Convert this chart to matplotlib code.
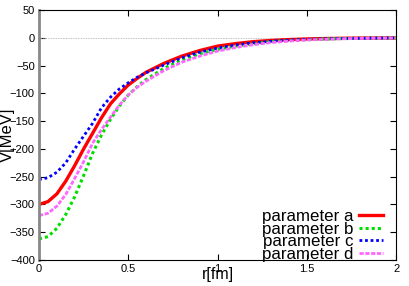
import matplotlib
matplotlib.use('Agg')
import matplotlib.pyplot as plt

plt.rcParams['font.family'] = ['Liberation Sans', 'DejaVu Sans']

# r [fm] and potentials V [MeV]
r = [0, 0.05, 0.1, 0.15, 0.2, 0.25, 0.3, 0.35, 0.4, 0.45, 0.5, 0.55, 0.6,
     0.7, 0.8, 0.9, 1.0, 1.1, 1.2, 1.3, 1.4, 1.5, 1.6, 1.7, 1.8, 1.9, 2.0]
v_a = [-300, -295, -281, -258, -230, -200, -172, -144, -119, -101, -85, -73, -62,
       -46, -33, -23, -15, -10.5, -7, -4.8, -3.2, -2.1, -1.4, -0.9, -0.6, -0.4, -0.25]
v_b = [-362, -358, -343, -318, -286, -248, -208, -175, -147, -123, -103, -88, -75,
       -55, -40, -29, -21, -15, -10.5, -7.2, -5, -3.4, -2.3, -1.5, -1, -0.6, -0.35]
v_c = [-255, -252, -242, -225, -200, -177, -154, -126, -107, -92, -81, -71, -63,
       -49, -36, -26, -18.5, -13, -9, -6.2, -4.2, -2.8, -1.9, -1.2, -0.8, -0.5, -0.3]
v_d = [-320, -316, -303, -282, -253, -223, -190, -165, -143, -121, -103, -89, -78,
       -59, -44, -33, -24, -17.5, -12.5, -8.6, -5.9, -4, -2.7, -1.8, -1.1, -0.7, -0.4]
labels = ['parameter a', 'parameter b', 'parameter c', 'parameter d']

fig = plt.figure(figsize=(4.09, 2.86), dpi=100)
ax = fig.add_axes([0.0954, 0.091, 0.873, 0.874])

ax.axhline(0, color='#aaaaaa', lw=0.6, ls=(0, (1, 1)))
ax.plot(r, v_a, color='#ff0000', lw=2.4, label=labels[0])
ax.plot(r, v_b, color='#00e000', lw=2.2, ls=(0, (1, 1)), label=labels[1])
ax.plot(r, v_c, color='#0000ff', lw=2.0, ls=(0, (1, 1)), label=labels[2])
ax.plot(r, v_d, color='#ff66ff', lw=2.0, ls=(0, (1.5, 0.6)), label=labels[3])

ax.set_xlim(0, 2)
ax.set_ylim(-400, 50)
ax.set_xticks([0, 0.5, 1, 1.5, 2])
ax.set_xticklabels(['0', '0.5', '1', '1.5', '2'])
ax.set_yticks(range(-400, 51, 50))
ax.tick_params(direction='in', top=True, right=True, labelsize=8, length=4, pad=3)
ax.spines['left'].set_color('#888888')
ax.spines['left'].set_linewidth(2)
for s in ['top', 'right', 'bottom']:
    ax.spines[s].set_linewidth(0.8)

ax.set_xlabel('r[fm]', fontsize=11.5, labelpad=-5)
ax.set_ylabel('V[MeV]', fontsize=12, labelpad=-4)

ax.legend(loc='lower right', bbox_to_anchor=(0.962, -0.008), markerfirst=False,
          frameon=False, fontsize=12.2, handlelength=1.4, labelspacing=-0.14,
          handletextpad=0.3, borderaxespad=0, borderpad=0)

fig.savefig('out.png', dpi=100)
